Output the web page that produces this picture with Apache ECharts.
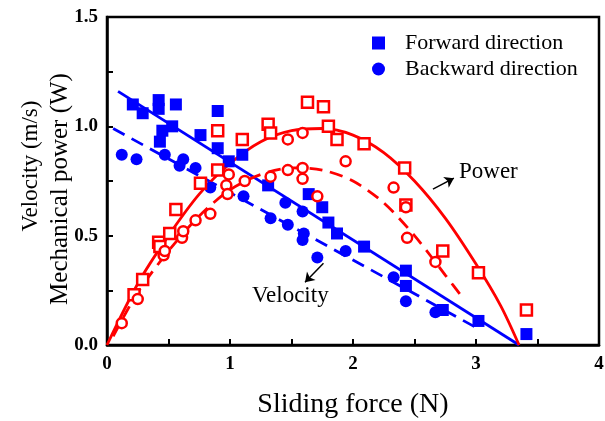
<!DOCTYPE html>
<html>
<head>
<meta charset="utf-8">
<script src="https://cdn.jsdelivr.net/npm/echarts@6/dist/echarts.min.js"></script>
<style>
  html, body { margin: 0; padding: 0; background: #fff; }
  #chart { width: 605px; height: 421px; }
</style>
</head>
<body>
<div id="chart"></div>
<script>
// measured points, [sliding force (N), value]
var fwdVelocity = [
  [0.21,1.10],[0.29,1.06],[0.42,1.12],[0.42,1.08],[0.56,1.10],[0.53,1.00],[0.45,0.98],[0.43,0.93],
  [0.76,0.96],[0.90,1.07],[0.90,0.90],[0.99,0.84],[1.10,0.87],[1.31,0.73],[1.64,0.69],[1.75,0.63],
  [1.80,0.56],[1.87,0.51],[2.09,0.45],[2.43,0.34],[2.43,0.27],[2.73,0.16],[3.02,0.11],[3.41,0.05]
];
var bwdVelocity = [
  [0.12,0.87],[0.24,0.85],[0.47,0.87],[0.62,0.85],[0.59,0.82],[0.72,0.81],[0.84,0.72],[1.11,0.68],
  [1.45,0.65],[1.59,0.61],[1.33,0.58],[1.47,0.55],[1.60,0.51],[1.59,0.48],[1.94,0.43],[1.71,0.40],
  [2.33,0.31],[2.43,0.20],[2.67,0.15]
];
var fwdPower = [
  [0.22,0.23],[0.29,0.30],[0.42,0.47],[0.43,0.45],[0.51,0.51],[0.56,0.62],[0.76,0.74],[0.90,0.80],
  [0.90,0.98],[1.10,0.94],[1.31,1.01],[1.33,0.97],[1.63,1.11],[1.76,1.09],[1.80,1.00],[1.87,0.94],
  [2.09,0.92],[2.42,0.81],[2.43,0.64],[2.73,0.43],[3.02,0.33],[3.41,0.16]
];
var bwdPower = [
  [0.12,0.10],[0.25,0.21],[0.46,0.41],[0.47,0.43],[0.61,0.49],[0.62,0.52],[0.72,0.57],[0.84,0.60],
  [0.99,0.78],[0.97,0.73],[1.12,0.75],[0.98,0.69],[1.47,0.94],[1.59,0.97],[1.33,0.77],[1.47,0.80],
  [1.59,0.81],[1.59,0.76],[1.94,0.84],[1.71,0.68],[2.33,0.72],[2.43,0.63],[2.44,0.49],[2.67,0.38]
];
// fitted lines
var fwdVelocityFit = [[0.09,1.16],[3.35,0.0]];
var bwdVelocityFit = [[0.05,0.99],[3.0,0.08]];
var fwdPowerFit = [
  [0,0],[0.25,0.28],[0.5,0.50],[0.75,0.69],[1.0,0.83],[1.25,0.93],[1.5,0.98],[1.75,0.99],
  [2.0,0.96],[2.25,0.88],[2.5,0.75],[2.75,0.58],[3.0,0.37],[3.2,0.18],[3.35,0]
];
var bwdPowerFit = [
  [0.05,0.04],[0.25,0.24],[0.5,0.43],[0.75,0.59],[1.0,0.71],[1.25,0.78],[1.5,0.81],[1.75,0.80],
  [2.0,0.75],[2.25,0.65],[2.5,0.50],[2.75,0.32],[2.9,0.21]
];
var legendNames = ['Forward direction', 'Backward direction'];

var serif = "'Liberation Serif', 'Times New Roman', serif";
var BLUE = '#0000ff', RED = '#ff0000';

function arrow(from, to) {
  return {
    silent: true, symbol: ['none', 'arrow'], symbolSize: 9,
    label: { show: false },
    lineStyle: { color: '#000', width: 1.5, type: 'solid' },
    data: [[{ coord: from }, { coord: to }]]
  };
}

var myChart = echarts.init(document.getElementById('chart'));
myChart.setOption({
  animation: false,
  grid: {
    left: 107, right: 6, top: 17, bottom: 76,
    show: true, borderColor: '#000', borderWidth: 2.5,
    outerBoundsMode: 'none'
  },
  legend: {
    orient: 'vertical',
    left: 372, top: 32,
    padding: 0,
    itemWidth: 13, itemHeight: 13, itemGap: 4,
    selectedMode: false,
    textStyle: { fontFamily: serif, fontSize: 22, color: '#000', lineHeight: 22, padding: [0,0,0,15] },
    data: [{ name: legendNames[0], icon: 'rect' }, { name: legendNames[1], icon: 'circle' }]
  },
  xAxis: {
    type: 'value', min: 0, max: 4, interval: 0.5,
    name: 'Sliding force (N)', nameLocation: 'middle', nameGap: 46,
    nameTextStyle: { fontFamily: serif, fontSize: 28, color: '#000' },
    axisLine: { onZero: false, lineStyle: { color: '#000', width: 2.5 } },
    axisTick: { inside: true, length: 6, lineStyle: { color: '#000', width: 2 } },
    axisLabel: {
      margin: 10, fontFamily: serif, fontSize: 19, fontWeight: 'bold', color: '#000',
      formatter: function (v) { return v % 1 === 0 ? String(v) : ''; }
    },
    splitLine: { show: false }
  },
  yAxis: {
    type: 'value', min: 0, max: 1.5, interval: 0.25,
    axisLine: { show: true, onZero: false, lineStyle: { color: '#000', width: 2.5 } },
    axisTick: { show: true, inside: true, length: 6, lineStyle: { color: '#000', width: 2 } },
    axisLabel: {
      margin: 9, fontFamily: serif, fontSize: 19, fontWeight: 'bold', color: '#000',
      formatter: function (v) { return Math.abs(v * 2 - Math.round(v * 2)) < 1e-6 ? v.toFixed(1) : ''; }
    },
    splitLine: { show: false }
  },
  graphic: [
    { type: 'text', x: 31, y: 166, rotation: Math.PI / 2,
      style: { text: 'Velocity (m/s)', font: '23px ' + serif, fill: '#000', textAlign: 'center', textVerticalAlign: 'middle' } },
    { type: 'text', x: 60, y: 189, rotation: Math.PI / 2,
      style: { text: 'Mechanical power (W)', font: '25px ' + serif, fill: '#000', textAlign: 'center', textVerticalAlign: 'middle' } },
    { type: 'text', x: 459, y: 172,
      style: { text: 'Power', font: '23px ' + serif, fill: '#000', textAlign: 'left', textVerticalAlign: 'middle' } },
    { type: 'text', x: 252, y: 296,
      style: { text: 'Velocity', font: '23px ' + serif, fill: '#000', textAlign: 'left', textVerticalAlign: 'middle' } }
  ],
  series: [
    {
      type: 'line', data: fwdVelocityFit, showSymbol: false, silent: true, z: 2,
      lineStyle: { color: BLUE, width: 2.8 },
      markLine: arrow([1.76, 0.374], [1.61, 0.287])
    },
    {
      type: 'line', data: bwdVelocityFit, showSymbol: false, silent: true, z: 2,
      lineStyle: { color: BLUE, width: 2.8, type: [13, 8] }
    },
    {
      type: 'line', data: fwdPowerFit, smooth: 0.3, showSymbol: false, silent: true, z: 2,
      lineStyle: { color: RED, width: 2.8 },
      markLine: arrow([2.65, 0.713], [2.82, 0.763])
    },
    {
      type: 'line', data: bwdPowerFit, smooth: 0.3, showSymbol: false, silent: true, z: 2,
      lineStyle: { color: RED, width: 2.8, type: [13, 8] }
    },
    {
      name: legendNames[0], type: 'scatter', data: fwdVelocity, symbol: 'rect', symbolSize: 12, z: 3,
      itemStyle: { color: BLUE, opacity: 1 }
    },
    {
      name: legendNames[1], type: 'scatter', data: bwdVelocity, symbol: 'circle', symbolSize: 12, z: 3,
      itemStyle: { color: BLUE, opacity: 1 }
    },
    {
      type: 'scatter', data: fwdPower, symbol: 'rect', symbolSize: 11, z: 3,
      itemStyle: { color: '#fff', borderColor: RED, borderWidth: 2.5, opacity: 1 }
    },
    {
      type: 'scatter', data: bwdPower, symbol: 'circle', symbolSize: 10, z: 3,
      itemStyle: { color: '#fff', borderColor: RED, borderWidth: 2.5, opacity: 1 }
    }
  ]
});
</script>
</body>
</html>
